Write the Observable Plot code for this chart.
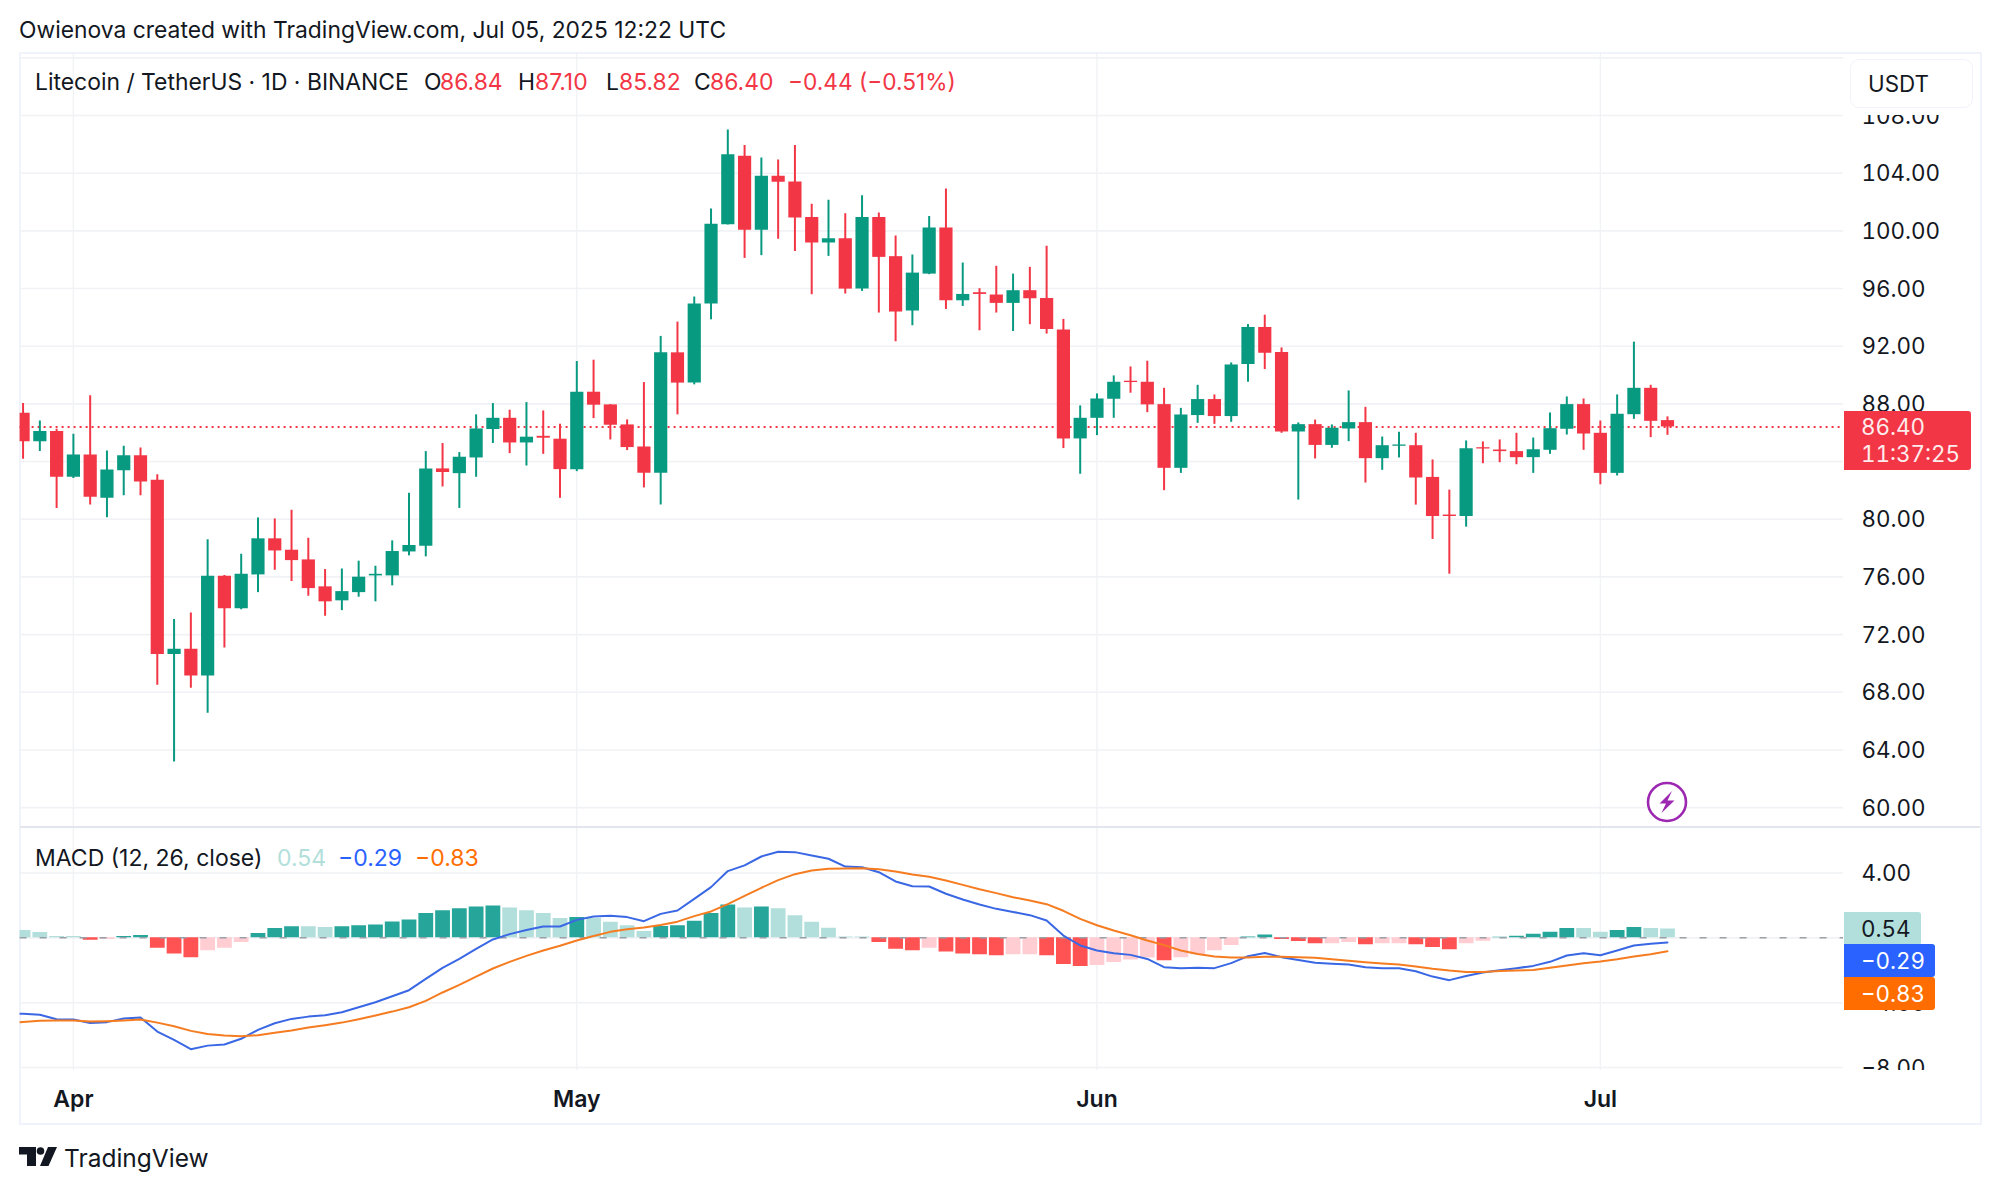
<!DOCTYPE html>
<html>
<head>
<meta charset="utf-8">
<script src="https://cdn.jsdelivr.net/npm/d3@7"></script>
<script src="https://cdn.jsdelivr.net/npm/@observablehq/plot@0.6"></script>
<style>
  html, body { margin: 0; padding: 0; background: #fff; overflow: hidden; }
  body { width: 2000px; height: 1191px; position: relative; font-family: Inter, sans-serif; color: #131722; }
  .abs { position: absolute; white-space: pre; line-height: 1; }
  .pane { position: absolute; left: 0; }
  .pane svg { display: block; }
  .tag { position: absolute; left: 1844px; color: #fff; font-size: 22.4px; border-radius: 0 3px 3px 0; box-sizing: border-box; padding-left: 17px; font-variant-numeric: tabular-nums; }
</style>
</head>
<body>
<div class="abs" style="left:19px;top:52px;width:1959px;height:1069px;border:2px solid #f0f3fa;box-sizing:content-box"></div>
<div class="pane" id="price" style="top:52px"></div>
<div class="pane" id="macd" style="top:827px"></div>
<div class="pane" id="time" style="top:1070px"></div>
<div class="abs" style="left:20px;top:826px;width:1960px;height:2px;background:#e4e6ee"></div>
<div id="overlay"></div>

<script>
// daily candles 29 Mar - 5 Jul 2025
const opens = [
  87.35, 85.38, 86.08,
  82.91, 84.46, 81.45, 83.37, 84.41, 82.71, 70.61, 70.98, 69.13, 76.05,
  73.80, 76.14, 78.64, 77.85, 77.18, 75.31, 74.34, 74.91, 76.07, 76.07,
  77.73, 78.13, 83.49, 83.16, 84.25, 86.22, 87.00, 85.29, 85.75, 85.55,
  83.44, 88.81, 87.93, 86.54, 85.01, 83.19, 91.54, 89.44, 94.92, 100.43,
  105.18, 100.04, 103.79, 103.39, 100.92, 99.16, 99.46, 95.96, 100.92, 98.21,
  94.44, 97.00, 100.20, 95.15, 95.71, 95.55, 94.97, 95.85, 95.31, 93.12, 85.57,
  87.00, 88.32, 89.57, 89.50, 87.95, 83.53, 87.19, 88.30, 87.12, 90.73,
  93.30, 91.56, 86.05, 86.56, 85.12, 86.26, 86.70, 84.20, 85.06, 85.10,
  82.90, 80.29, 80.19, 84.96, 84.80, 84.69, 84.27, 84.78, 86.24, 87.95,
  85.96, 83.18, 87.25, 89.08, 86.84
];
const highs = [
  88.02, 86.82, 86.24,
  85.89, 88.56, 84.74, 85.06, 84.94, 83.08, 73.04, 73.50, 78.57, 76.10,
  77.57, 80.09, 80.02, 80.62, 78.68, 76.51, 76.55, 77.09, 76.74, 78.50,
  81.80, 84.69, 85.25, 84.62, 87.24, 88.02, 87.56, 88.09, 87.51, 86.59,
  90.94, 91.03, 87.95, 86.89, 89.48, 92.68, 93.67, 95.41, 101.52, 107.00,
  105.92, 105.06, 104.92, 105.92, 101.84, 102.12, 101.19, 102.44, 101.24, 99.64,
  98.32, 100.99, 102.91, 97.77, 95.99, 97.54, 97.00, 97.47, 98.93, 93.86, 87.86,
  88.69, 89.94, 90.56, 90.96, 89.08, 87.69, 89.29, 88.62, 90.84, 93.50,
  94.15, 91.88, 86.68, 86.88, 86.54, 88.90, 87.76, 85.70, 86.03, 85.96,
  84.11, 82.02, 85.43, 85.36, 85.50, 85.96, 85.63, 87.37, 88.48, 88.34,
  86.81, 88.62, 92.28, 89.29, 87.10
];
const lows = [
  84.16, 84.69, 80.75,
  82.82, 80.99, 80.11, 81.63, 81.63, 68.49, 63.17, 68.28, 66.54, 71.07,
  73.73, 74.91, 76.46, 75.68, 74.66, 73.27, 73.66, 74.59, 74.27, 75.38,
  77.46, 77.39, 82.24, 80.75, 82.91, 85.25, 84.55, 83.69, 84.50, 81.45,
  83.30, 86.98, 85.50, 84.76, 82.17, 80.99, 87.24, 89.32, 93.83, 100.41,
  98.09, 98.28, 99.41, 98.56, 95.57, 98.23, 95.62, 95.80, 94.30, 92.31,
  93.42, 96.96, 94.55, 94.76, 93.07, 94.30, 93.02, 93.49, 92.84, 84.90, 83.12,
  85.80, 87.00, 88.74, 87.39, 81.98, 83.18, 86.65, 86.58, 86.72, 89.50,
  90.38, 85.96, 81.33, 84.18, 84.92, 85.38, 82.51, 83.39, 84.25, 80.98,
  78.60, 76.19, 79.45, 83.85, 83.92, 83.78, 83.18, 84.50, 85.84, 84.78,
  82.39, 83.00, 86.93, 85.66, 85.82
];
const closes = [
  85.38, 86.08, 82.91,
  84.46, 81.52, 83.42, 84.41, 82.58, 70.61, 70.98, 69.13, 76.05, 73.80,
  76.18, 78.64, 77.80, 77.13, 75.19, 74.27, 74.98, 75.98, 76.18, 77.76,
  78.18, 83.49, 83.24, 84.30, 86.26, 87.00, 85.29, 85.69, 85.62, 83.44,
  88.81, 87.91, 86.52, 84.97, 83.19, 91.54, 89.44, 94.92, 100.45, 105.27,
  100.04, 103.79, 103.37, 100.89, 99.16, 99.46, 95.96, 100.92, 98.16, 94.37,
  97.07, 100.20, 95.15, 95.59, 95.59, 94.97, 95.85, 95.29, 93.16, 85.57, 87.00,
  88.34, 89.50, 89.48, 87.93, 83.53, 87.23, 88.30, 87.12, 90.70, 93.30,
  91.51, 86.05, 86.56, 85.12, 86.31, 86.70, 84.20, 85.10, 85.15, 82.86,
  80.19, 80.19, 84.89, 84.87, 84.69, 84.27, 84.82, 86.28, 87.95, 85.91,
  83.18, 87.28, 89.08, 86.79, 86.40
];

// MACD pane, same days
const histogram = [
  0.45, 0.33, 0.08,
  0.08, -0.14, -0.10, 0.08, 0.14, -0.64, -1.00, -1.23, -0.80, -0.64,
  -0.29, 0.27, 0.58, 0.68, 0.68, 0.64, 0.68, 0.74, 0.80, 0.98,
  1.10, 1.50, 1.68, 1.80, 1.90, 1.97, 1.85, 1.68, 1.50, 1.19,
  1.25, 1.19, 0.96, 0.74, 0.39, 0.70, 0.74, 1.02, 1.50, 2.03,
  1.85, 1.90, 1.80, 1.37, 0.96, 0.60, 0.06, 0.06, -0.29, -0.70,
  -0.80, -0.64, -0.88, -1.00, -1.05, -1.10, -1.05, -1.05, -1.10, -1.65, -1.77,
  -1.70, -1.52, -1.36, -1.25, -1.42, -1.23, -1.05, -0.80, -0.47, 0.06,
  0.18, -0.10, -0.23, -0.37, -0.37, -0.29, -0.43, -0.37, -0.37, -0.43,
  -0.60, -0.74, -0.37, -0.21, 0.04, 0.10, 0.23, 0.35, 0.58, 0.58,
  0.35, 0.45, 0.64, 0.58, 0.54
];
// d = strong colour, l = pale colour
const histTone = [
  "l", "l", "l",
  "l", "d", "l", "d", "d", "d", "d", "d", "l", "l",
  "l", "d", "d", "d", "l", "l", "d", "d", "d", "d",
  "d", "d", "d", "d", "d", "d", "l", "l", "l", "l",
  "d", "l", "l", "l", "l", "d", "d", "d", "d", "d",
  "l", "d", "l", "l", "l", "l", "l", "l", "d", "d",
  "d", "l", "d", "d", "d", "d", "l", "l", "d", "d", "d",
  "l", "l", "l", "l", "d", "l", "l", "l", "l", "d",
  "d", "d", "d", "d", "l", "l", "d", "l", "l", "d",
  "d", "d", "l", "l", "d", "d", "d", "d", "d", "l",
  "l", "d", "d", "l", "l"
];
// lines start one day earlier, that day runs off the left edge
const macdLine = [
  -4.66,
  -4.69, -4.75, -5.02,
  -5.04, -5.25, -5.20, -4.98, -4.92, -5.78, -6.30, -6.87, -6.65, -6.58,
  -6.23, -5.68, -5.27, -5.00, -4.86, -4.77, -4.59, -4.28, -3.97, -3.60,
  -3.23, -2.53, -1.85, -1.30, -0.68, -0.10, 0.23, 0.49, 0.70, 0.70,
  1.11, 1.32, 1.36, 1.28, 1.03, 1.48, 1.69, 2.41, 3.13, 4.12,
  4.47, 5.02, 5.31, 5.29, 5.08, 4.88, 4.40, 4.36, 4.05, 3.48,
  3.19, 3.17, 2.72, 2.37, 2.06, 1.79, 1.60, 1.40, 1.07, 0.14, -0.47,
  -0.78, -0.95, -1.05, -1.30, -1.81, -1.87, -1.85, -1.87, -1.56, -1.13,
  -0.93, -1.19, -1.36, -1.54, -1.60, -1.65, -1.81, -1.87, -1.87, -2.06,
  -2.39, -2.61, -2.35, -2.14, -2.00, -1.87, -1.73, -1.48, -1.09, -0.95,
  -1.07, -0.78, -0.47, -0.37, -0.29
];
const signalLine = [
  -5.25,
  -5.19, -5.12, -5.10,
  -5.10, -5.16, -5.14, -5.10, -5.04, -5.23, -5.45, -5.74, -5.93, -6.03,
  -6.07, -6.01, -5.86, -5.72, -5.53, -5.39, -5.23, -5.02, -4.79, -4.55,
  -4.28, -3.89, -3.37, -2.90, -2.39, -1.89, -1.48, -1.11, -0.78, -0.49,
  -0.16, 0.12, 0.37, 0.53, 0.64, 0.80, 1.00, 1.34, 1.63, 2.08,
  2.59, 3.09, 3.56, 3.93, 4.16, 4.26, 4.28, 4.30, 4.24, 4.09,
  3.91, 3.77, 3.54, 3.27, 3.00, 2.76, 2.51, 2.30, 2.08, 1.67, 1.17,
  0.78, 0.45, 0.16, -0.16, -0.45, -0.78, -0.99, -1.15, -1.21, -1.21,
  -1.17, -1.17, -1.19, -1.23, -1.32, -1.42, -1.50, -1.58, -1.65, -1.77,
  -1.91, -2.02, -2.10, -2.10, -2.04, -2.02, -1.98, -1.85, -1.71, -1.56,
  -1.46, -1.32, -1.15, -1.01, -0.83
];

const dates = d3.utcDays(new Date("2025-03-29"), new Date("2025-07-06"));
const lineDates = d3.utcDays(new Date("2025-03-28"), new Date("2025-07-06"));
const monthTicks = [new Date("2025-04-01"), new Date("2025-05-01"), new Date("2025-06-01"), new Date("2025-07-01")];
const priceTicks = [60, 64, 68, 72, 76, 80, 84, 88, 92, 96, 100, 104, 108];
const macdTicks = [4, -4, -8];
const lastPrice = 86.40;

const candles = dates.map((date, i) => ({date, open: opens[i], high: highs[i], low: lows[i], close: closes[i]}));
const histRows = dates.map((date, i) => ({date, hist: histogram[i], tone: histTone[i]}));
const lineRows = lineDates.map((date, i) => ({date, macd: macdLine[i], signal: signalLine[i]}));

const GREEN = "#089981", RED = "#f23645", GRID = "#f1f2f5", INK = "#131722";
const xDomain = [new Date("2025-03-28T19:46Z"), new Date("2025-07-15T11:46Z")];
const W = 2000, ML = 19.6, MR = 157;

const upDown = d => d.close >= d.open ? GREEN : RED;
const histColor = d => d.hist >= 0
  ? (d.tone == "d" ? "#26a69a" : "#b2dfdb")
  : (d.tone == "d" ? "#ff5252" : "#ffcdd2");

const priceChart = Plot.plot({
  width: W, height: 775,
  marginLeft: ML, marginRight: MR, marginTop: 0, marginBottom: 0,
  style: {fontFamily: "Inter, sans-serif", background: "transparent"},
  x: {type: "utc", domain: xDomain, axis: null},
  y: {domain: [58.62, 112.37], axis: null},
  marks: [
    Plot.gridY([...priceTicks, 112], {stroke: GRID, strokeOpacity: 1, strokeWidth: 1.6}),
    Plot.gridX(monthTicks, {stroke: GRID, strokeOpacity: 1, strokeWidth: 1.4}),
    Plot.axisY(priceTicks, {anchor: "right", tickSize: 0, tickPadding: 18, dy: 1, tickFormat: d3.format(".2f"), fontSize: 22.4, fontVariant: "tabular-nums", fill: INK, label: null}),
    Plot.ruleY([lastPrice], {stroke: RED, strokeWidth: 2, strokeDasharray: "2,4"}),
    Plot.ruleX(candles, {x: "date", y1: "low", y2: "high", stroke: upDown, strokeWidth: 2, clip: true}),
    Plot.ruleX(candles, {x: "date", y1: "open", y2: "close", stroke: upDown, strokeWidth: 13.2, clip: true})
  ]
});

const macdChart = Plot.plot({
  width: W, height: 243,
  marginLeft: ML, marginRight: MR, marginTop: 0, marginBottom: 0,
  style: {fontFamily: "Inter, sans-serif", background: "transparent"},
  x: {type: "utc", domain: xDomain, axis: null},
  y: {domain: [-8.185, 6.81], axis: null},
  marks: [
    Plot.gridY([4, 0, -4, -8], {stroke: GRID, strokeOpacity: 1, strokeWidth: 1.6}),
    Plot.gridX(monthTicks, {stroke: GRID, strokeOpacity: 1, strokeWidth: 1.4}),
    Plot.axisY(macdTicks, {anchor: "right", tickSize: 0, tickPadding: 18, dy: 1, tickFormat: d3.format(".2f"), fontSize: 22.4, fontVariant: "tabular-nums", fill: INK, label: null}),
    Plot.ruleX(histRows, {x: "date", y1: 0, y2: "hist", stroke: histColor, strokeWidth: 14.8, clip: true}),
    Plot.ruleY([0], {stroke: "#9aa0a8", strokeWidth: 1.5, strokeDasharray: "7,13"}),
    Plot.line(lineRows, {x: "date", y: "macd", stroke: "#3a68e4", strokeWidth: 2, clip: true}),
    Plot.line(lineRows, {x: "date", y: "signal", stroke: "#f57c20", strokeWidth: 2, clip: true})
  ]
});

const timeChart = Plot.plot({
  width: W, height: 52,
  marginLeft: ML, marginRight: MR, marginTop: 0, marginBottom: 52,
  style: {fontFamily: "Inter, sans-serif", background: "transparent"},
  x: {type: "utc", domain: xDomain, axis: null},
  marks: [
    Plot.axisX(monthTicks, {anchor: "bottom", tickSize: 0, tickPadding: 20, tickFormat: d3.utcFormat("%b"), fontSize: 23, fontWeight: 600, fill: INK, label: null})
  ]
});

document.getElementById("price").append(priceChart);
document.getElementById("macd").append(macdChart);
document.getElementById("time").append(timeChart);

// text around the panes
const labels = [
  ["Owienova created with TradingView.com, Jul 05, 2025 12:22 UTC", 19, 30, INK, 22.85],
  ["Litecoin / TetherUS · 1D · BINANCE", 35, 82, INK, 22.9],
  ["O", 424, 82, INK, 22.9], ["86.84", 440, 82, RED, 22.9],
  ["H", 518, 82, INK, 22.9], ["87.10", 535, 82, RED, 22.9],
  ["L", 606, 82, INK, 22.9], ["85.82", 619, 82, RED, 22.9],
  ["C", 694, 82, INK, 22.9], ["86.40", 710, 82, RED, 22.9],
  ["−0.44 (−0.51%)", 788, 82, RED, 22.7],
  ["MACD (12, 26, close)", 35, 858, INK, 23],
  ["0.54", 277, 858, "#b2dfdb", 23],
  ["−0.29", 338, 858, "#2962ff", 23],
  ["−0.83", 415, 858, "#ff6d00", 23],
  ["TradingView", 64, 1158, INK, 24.5]
];
const overlay = d3.select("#overlay");
overlay.selectAll("div.lab").data(labels).join("div")
  .attr("class", "abs lab")
  .style("left", d => d[1] + "px")
  .style("top", d => (d[2] - d[4] / 2) + "px")
  .style("color", d => d[3])
  .style("font-size", d => d[4] + "px")
  .text(d => d[0]);

// currency button and last value tags sit on top of the axis
// the white strip under the button cuts the top of the 108.00 label
overlay.append("div").attr("class", "abs")
  .attr("style", "left:1846px;top:100px;width:130px;height:15px;background:#fff");
overlay.append("div").attr("class", "abs")
  .attr("style", "left:1850px;top:59px;width:123px;height:49px;background:#fff;border:1.5px solid #f0f3fa;border-radius:9px;box-sizing:border-box;font-size:22.4px;line-height:48px;padding-left:17px")
  .text("USDT");
overlay.append("div").attr("class", "tag")
  .attr("style", `top:411px;width:127px;height:59px;background:${RED};padding-top:3px;line-height:26.5px;color:#ffecec;white-space:pre`)
  .text("86.40\n11:37:25");
const tags = [
  ["0.54", 912, 77, "#b2dfdb", INK],
  ["−0.29", 944, 91, "#2962ff", "#fff"],
  ["−0.83", 977, 91, "#ff6d00", "#fff"]
];
overlay.selectAll("div.val").data(tags).join("div")
  .attr("class", "tag val")
  .style("top", d => d[1] + "px")
  .style("width", d => d[2] + "px")
  .style("height", "33px")
  .style("line-height", "33px")
  .style("background", d => d[3])
  .style("color", d => d[4])
  .text(d => d[0]);

// lightning badge and logo
overlay.append("div").html(`
<svg style="position:absolute;left:1646px;top:781px" width="42" height="42" viewBox="0 0 42 42">
  <circle cx="21" cy="21" r="19" fill="#fff" stroke="#9c27b0" stroke-width="2.6"/>
  <path d="M26 10 L13.5 22.5 L20 22.5 L15.5 32 L28.5 19.5 L21.5 19.5 Z" fill="#9c27b0"/>
</svg>
<svg style="position:absolute;left:19px;top:1147px" width="40" height="20" viewBox="0 0 40 20">
  <path d="M0 0H17V19H8V7.5H0Z" fill="${INK}"/>
  <circle cx="21.5" cy="4" r="3.8" fill="${INK}"/>
  <path d="M29 0H38L29.5 19H21Z" fill="${INK}"/>
</svg>`);
</script>
</body>
</html>
